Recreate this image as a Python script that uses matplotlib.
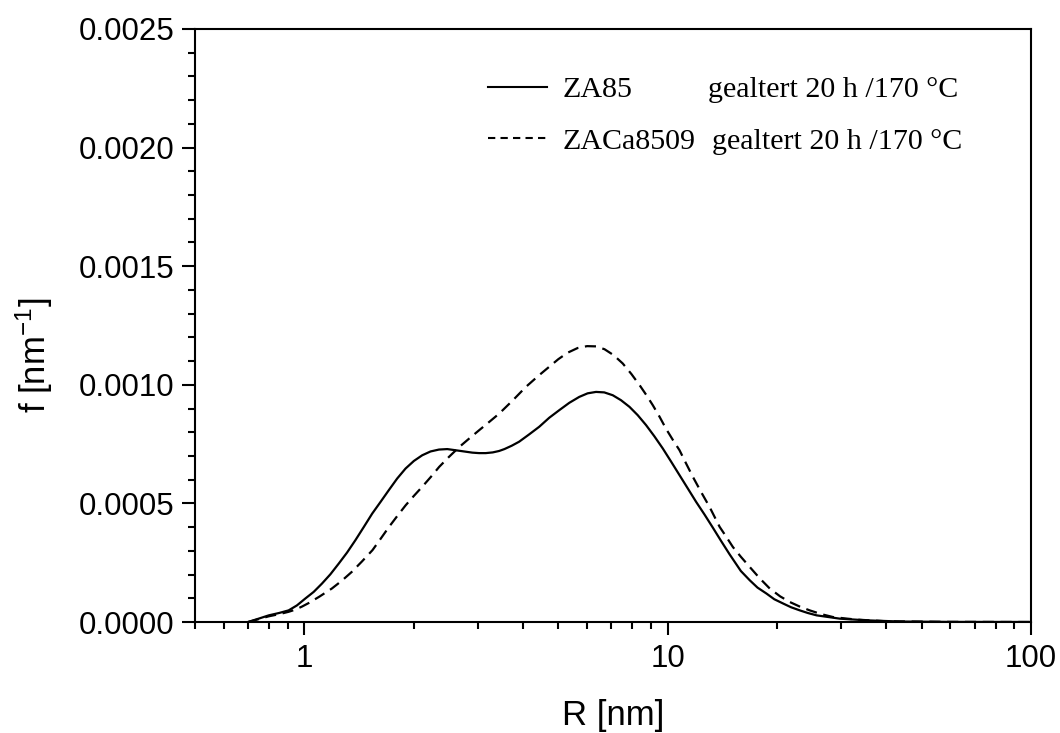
import matplotlib
matplotlib.use("Agg")
import matplotlib.pyplot as plt
from matplotlib import ticker
from matplotlib.lines import Line2D

# ---- data ----
r_za85 = [0.70, 0.748, 0.798, 0.852, 0.905, 0.954, 1.006, 1.061, 1.118, 1.179,
          1.243, 1.311, 1.382, 1.458, 1.537, 1.620, 1.708, 1.801, 1.899, 2.002,
          2.111, 2.225, 2.347, 2.474, 2.61, 2.751, 2.90, 3.026, 3.157, 3.30,
          3.436, 3.553, 3.72, 3.90, 4.157, 4.43, 4.72, 5.03, 5.36, 5.71,
          6.02, 6.35, 6.69, 7.06, 7.44, 7.85, 8.27, 8.72, 9.19, 9.69,
          10.23, 10.78, 11.36, 11.98, 12.63, 13.31, 14.05, 14.81, 15.9, 16.82,
          17.67, 18.70, 19.65, 20.78, 21.87, 23.1, 24.3, 25.7, 29.8, 35.3,
          43.6, 60.0, 100.0]
f_za85 = [0.0, 0.14, 0.28, 0.38, 0.49, 0.70, 0.99, 1.27, 1.62, 2.01,
          2.46, 2.93, 3.45, 4.01, 4.57, 5.06, 5.56, 6.05, 6.47, 6.79,
          7.03, 7.19, 7.27, 7.29, 7.24, 7.19, 7.14, 7.12, 7.12, 7.15,
          7.21, 7.29, 7.43, 7.60, 7.91, 8.23, 8.61, 8.93, 9.24, 9.49,
          9.64, 9.70, 9.68, 9.56, 9.35, 9.07, 8.72, 8.30, 7.83, 7.32,
          6.75, 6.19, 5.63, 5.06, 4.53, 3.98, 3.40, 2.85, 2.15, 1.76,
          1.45, 1.20, 0.96, 0.78, 0.62, 0.49, 0.38, 0.28, 0.14, 0.07,
          0.02, 0.003, 0.0]

r_zaca = [0.70, 0.748, 0.798, 0.852, 0.905, 0.944, 0.985, 1.028, 1.10, 1.19,
          1.27, 1.35, 1.44, 1.54, 1.62, 1.71, 1.80, 1.90, 2.00, 2.11,
          2.23, 2.35, 2.50, 2.67, 2.85, 3.03, 3.23, 3.44, 3.75, 4.07,
          4.40, 4.72, 5.00, 5.30, 5.65, 6.00, 6.35, 6.70, 7.10, 7.52,
          7.95, 8.40, 8.75, 9.10, 9.50, 9.91, 10.33, 10.78, 11.24, 11.73,
          12.37, 13.04, 13.9, 14.5, 15.12, 15.9, 16.82, 17.9, 19.1, 20.4,
          21.7, 23.1, 24.6, 26.5, 28.5, 30.8, 33.2, 40.0, 60.0, 100.0]
f_zaca = [0.0, 0.12, 0.24, 0.33, 0.43, 0.52, 0.65, 0.80, 1.07, 1.41,
          1.75, 2.11, 2.55, 3.03, 3.50, 4.01, 4.46, 4.92, 5.31, 5.70,
          6.12, 6.54, 6.96, 7.38, 7.75, 8.09, 8.44, 8.79, 9.35, 9.91,
          10.37, 10.76, 11.08, 11.35, 11.55, 11.63, 11.62, 11.50, 11.25, 10.90,
          10.45, 9.95, 9.55, 9.14, 8.65, 8.13, 7.68, 7.24, 6.68, 6.12,
          5.47, 4.85, 4.01, 3.59, 3.16, 2.75, 2.32, 1.85, 1.41, 1.08,
          0.84, 0.65, 0.49, 0.33, 0.21, 0.15, 0.10, 0.03, 0.005, 0.0]
f_scale = 1e-4

series_labels = ["ZA85", "ZACa8509"]
condition_text = "gealtert 20 h /170 \u00b0C"
x_label = "R [nm]"
y_label = "f [nm$^{\\mathregular{-1}}$]"

plt.rcParams['font.family'] = ['Liberation Sans', 'DejaVu Sans']
plt.rcParams['mathtext.fontset'] = 'custom'
plt.rcParams['mathtext.rm'] = 'Liberation Sans'
plt.rcParams['mathtext.it'] = 'Liberation Sans'

fig = plt.figure(figsize=(10.6, 7.33), dpi=100)
W, H = 1060, 733
ax = fig.add_axes([195 / W, 1 - 622 / H, (1031 - 195) / W, (622 - 29) / H])

ax.plot(r_za85, [v * f_scale for v in f_za85], color='black', lw=1.6)
ax.plot(r_zaca, [v * f_scale for v in f_zaca], color='black', lw=1.6,
        dashes=(5, 3))

ax.set_xscale('log')
ax.set_xlim(0.5, 100)
ax.set_ylim(0, 0.0025)

ax.xaxis.set_major_locator(ticker.FixedLocator([1, 10, 100]))
ax.xaxis.set_major_formatter(ticker.FormatStrFormatter('%g'))
ax.xaxis.set_minor_locator(ticker.LogLocator(base=10, subs=range(2, 10)))
ax.xaxis.set_minor_formatter(ticker.NullFormatter())

ax.yaxis.set_major_locator(ticker.MultipleLocator(0.0005))
ax.yaxis.set_minor_locator(ticker.MultipleLocator(0.0001))
ax.yaxis.set_major_formatter(ticker.FormatStrFormatter('%.4f'))

ax.tick_params(which='both', direction='out', width=1.5, top=False, right=False)
ax.tick_params(which='major', length=9.5, labelsize=22.5)
ax.tick_params(axis='y', which='major', pad=5)
ax.tick_params(axis='x', which='major', pad=6)
ax.tick_params(which='minor', length=5)
for s in ax.spines.values():
    s.set_linewidth(1.5)

ax.set_xlabel(x_label, fontsize=25)
ax.set_ylabel(y_label, fontsize=25)
ax.xaxis.set_label_coords(0.5, -0.13)
ax.yaxis.set_label_coords(-0.167, 0.45)

# legend
leg_size = 21.6
handles = [Line2D([], [], color='black', lw=1.5),
           Line2D([], [], color='black', lw=1.5, dashes=(3.5, 2.5))]
leg = ax.legend(handles, series_labels, loc='upper left',
                bbox_to_anchor=((488 - 195) / 836, (622 - 76) / 593),
                frameon=False, borderpad=0, borderaxespad=0,
                handlelength=1.95, handletextpad=0.53, labelspacing=0.82,
                prop={'family': 'Liberation Serif', 'size': leg_size})

fig.canvas.draw()
renderer = fig.canvas.get_renderer()
for txt, xpix in zip(leg.get_texts(), [708, 712]):
    bb = txt.get_window_extent(renderer)
    fig.text(xpix / W, bb.y0 / H, condition_text, family='Liberation Serif',
             fontsize=leg_size, va='bottom', ha='left')

fig.savefig('out.png', dpi=100)
